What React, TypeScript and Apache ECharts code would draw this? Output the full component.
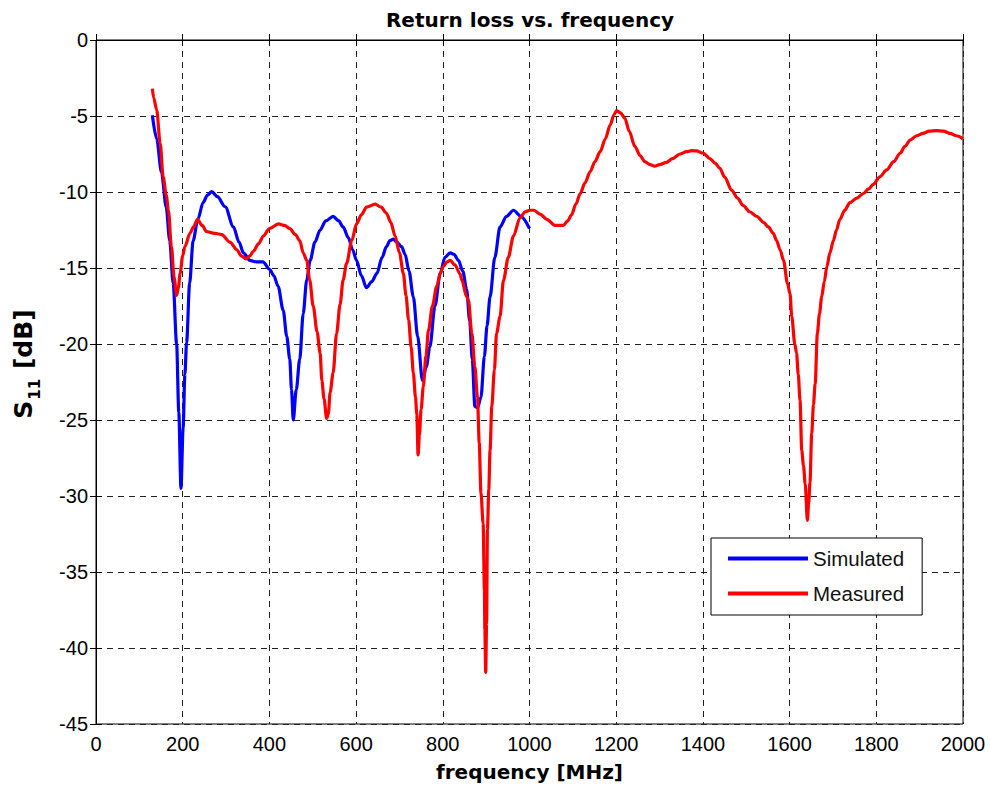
import React, { useEffect, useRef } from "react";
import * as echarts from "echarts";

const title = "Return loss vs. frequency";
const xName = "frequency [MHz]";
const seriesNames = ["Simulated", "Measured"];
const xTicks = { min: 0, max: 2000, interval: 200 };
const yTicks = { min: -45, max: 0, interval: 5 };

const simFreq = [130, 140, 151, 162, 170, 178, 186, 191, 196, 201, 205, 209, 216, 224, 235, 247, 257, 267, 280, 298, 317, 330, 340, 355, 370, 385, 401, 410, 420, 432, 440, 447, 451, 455, 462, 470, 478, 486, 494, 505, 517, 530, 547, 560, 570, 582, 592, 601, 612, 624, 636, 648, 660, 670, 678, 686, 694, 705, 713, 722, 732, 742, 753, 762, 770, 782, 794, 805, 817, 826, 836, 846, 855, 862, 868, 874, 880, 888, 896, 902, 909, 920, 932, 947, 963, 980, 1000];
const simS11 = [-4.95, -6.5, -8.7, -11.0, -13.2, -16.0, -20.0, -24.5, -29.5, -25.5, -22.0, -19.9, -16.0, -13.2, -11.8, -10.7, -10.2, -9.98, -10.3, -10.97, -12.3, -13.3, -14.0, -14.5, -14.6, -14.6, -15.1, -15.5, -16.2, -17.8, -19.5, -21.0, -23.0, -25.0, -23.0, -21.0, -18.0, -15.8, -14.5, -13.3, -12.5, -11.9, -11.6, -11.9, -12.3, -13.0, -13.8, -14.5, -15.5, -16.3, -15.9, -15.35, -14.3, -13.6, -13.2, -13.1, -13.3, -13.6, -14.1, -15.2, -16.9, -19.5, -22.4, -21.5, -20.2, -17.5, -15.35, -14.3, -14.0, -14.1, -14.5, -15.2, -16.4, -18.5, -21.0, -24.1, -24.2, -23.5, -20.8, -18.8, -16.9, -14.3, -12.3, -11.6, -11.2, -11.6, -12.4];

const measFreq = [130, 133, 140, 148, 155, 162, 167, 174, 180, 186, 190, 194, 200, 205, 217, 225, 234, 245, 255, 270, 290, 309, 325, 335, 346, 355, 363, 375, 386, 400, 421, 435, 447, 460, 470, 478, 486, 493, 501, 510, 517, 521, 526, 532, 536, 540, 547, 555, 563, 570, 578, 590, 601, 612, 624, 644, 658, 670, 680, 690, 700, 709, 715, 721, 727, 732, 737, 740, 743, 746, 750, 755, 761, 767, 776, 786, 795, 801, 810, 817, 828, 840, 844, 855, 859, 867, 874, 880, 884, 888, 893, 896, 897, 899, 901, 903, 906, 909, 913, 919, 924, 932, 940, 951, 963, 978, 990, 1001, 1010, 1024, 1040, 1059, 1078, 1088, 1097, 1107, 1117, 1128, 1140, 1151, 1163, 1175, 1186, 1195, 1201, 1210, 1220, 1230, 1243, 1255, 1266, 1278, 1289, 1300, 1316, 1330, 1347, 1362, 1374, 1385, 1401, 1416, 1428, 1439, 1450, 1466, 1480, 1493, 1508, 1524, 1540, 1551, 1562, 1570, 1578, 1586, 1595, 1601, 1605, 1612, 1616, 1620, 1624, 1628, 1632, 1636, 1641, 1644, 1647, 1651, 1655, 1659, 1664, 1669, 1674, 1680, 1686, 1693, 1701, 1708, 1716, 1727, 1739, 1755, 1770, 1782, 1793, 1808, 1824, 1840, 1855, 1866, 1878, 1893, 1908, 1922, 1939, 1955, 1970, 1985, 2000];
const measS11 = [-3.2, -3.8, -4.6, -6.8, -9.0, -10.2, -11.2, -13.6, -15.6, -16.8, -16.3, -15.35, -14.2, -13.6, -12.7, -12.3, -11.8, -12.2, -12.6, -12.7, -12.8, -13.3, -13.8, -14.2, -14.4, -14.2, -13.9, -13.4, -12.9, -12.4, -12.1, -12.2, -12.4, -12.8, -13.2, -14.0, -14.5, -15.8, -17.5, -19.2, -20.6, -22.4, -23.6, -24.9, -24.6, -23.2, -21.9, -19.3, -17.4, -15.8, -14.7, -13.2, -12.1, -11.5, -11.0, -10.8, -11.0, -11.4, -12.0, -12.9, -14.0, -15.35, -16.8, -18.4, -20.2, -21.9, -23.5, -24.6, -27.3, -26.0, -24.3, -22.8, -20.8, -19.1, -17.5, -16.2, -15.3, -14.9, -14.6, -14.5, -14.8, -15.4, -15.8, -16.9, -17.1, -19.3, -21.5, -23.5, -26.5, -29.8, -31.8, -36.2, -38.8, -41.6, -38.4, -32.2, -29.6, -27.0, -24.1, -21.7, -19.3, -18.2, -15.8, -14.3, -12.9, -11.7, -11.3, -11.2, -11.2, -11.45, -11.8, -12.2, -12.2, -11.9, -11.5, -10.8, -10.1, -9.4, -8.66, -8.0, -7.35, -6.5, -5.6, -4.9, -4.65, -4.8, -5.15, -6.0, -7.0, -7.6, -8.0, -8.2, -8.3, -8.2, -8.05, -7.8, -7.5, -7.35, -7.28, -7.3, -7.45, -7.8, -8.1, -8.44, -9.0, -9.87, -10.4, -10.9, -11.3, -11.6, -12.0, -12.3, -12.7, -13.2, -13.8, -14.5, -16.0, -16.7, -18.2, -20.0, -20.6, -22.0, -23.7, -27.0, -28.0, -29.2, -31.6, -30.5, -29.1, -25.9, -24.0, -22.6, -19.3, -18.0, -16.9, -15.9, -14.9, -14.0, -13.2, -12.5, -11.8, -11.2, -10.7, -10.4, -10.1, -9.8, -9.5, -9.0, -8.55, -8.0, -7.45, -7.0, -6.58, -6.3, -6.14, -6.0, -5.96, -6.0, -6.14, -6.3, -6.5];

const FONT = "Liberation Sans";
const BOLD = "DejaVu Sans";

export default function App() {
  const ref = useRef<HTMLDivElement>(null);
  useEffect(() => {
    if (!ref.current) return;
    const chart = echarts.init(ref.current, null, { renderer: "svg" });
    const gridLine = { show: true, lineStyle: { color: "#222", type: [6, 5], width: 1 } };
    const tick = { show: true, inside: true, length: 6, lineStyle: { color: "#000" } };
    const label = { color: "#000", fontSize: 20, fontFamily: FONT };
    chart.setOption({
      animation: false,
      backgroundColor: "#fff",
      title: {
        text: title,
        left: 525,
        textAlign: "center",
        top: 5,
        textStyle: { fontFamily: BOLD, fontWeight: "bold", fontSize: 20, color: "#000" },
      },
      grid: { left: 96, top: 40, width: 867, height: 684, show: true, borderColor: "#000", borderWidth: 1, backgroundColor: "#fff" },
      legend: {
        orient: "vertical",
        left: 711,
        top: 538,
        backgroundColor: "#fff",
        borderColor: "#000",
        borderWidth: 1,
        borderRadius: 0,
        padding: [10, 18, 11, 17],
        itemGap: 14,
        itemWidth: 80,
        itemHeight: 4,
        icon: "rect",
        textStyle: { fontSize: 20.5, color: "#111", fontFamily: FONT },
        data: seriesNames,
      },
      graphic: [
        {
          type: "text",
          x: 22,
          y: 364,
          rotation: Math.PI / 2,
          style: {
            text: "{b|S}{sub|11}{b| [dB]}",
            align: "center",
            verticalAlign: "middle",
            rich: {
              b: { fontFamily: BOLD, fontWeight: "bold", fontSize: 25, fill: "#000", lineHeight: 28, verticalAlign: "bottom" },
              sub: { fontFamily: BOLD, fontWeight: "bold", fontSize: 15, fill: "#000", lineHeight: 28, verticalAlign: "bottom", padding: [0, 1, -6, 1] },
            },
          },
        },
      ],
      xAxis: [
        {
          type: "value",
          min: xTicks.min,
          max: xTicks.max,
          interval: xTicks.interval,
          name: xName,
          nameLocation: "middle",
          nameGap: 38,
          nameTextStyle: { fontFamily: BOLD, fontWeight: "bold", fontSize: 20, color: "#000" },
          axisLine: { show: true, lineStyle: { color: "#000" } },
          axisTick: tick,
          axisLabel: { ...label, margin: 10, formatter: (v: number) => String(v) },
          splitLine: gridLine,
        },
        {
          type: "value",
          position: "top",
          min: xTicks.min,
          max: xTicks.max,
          interval: xTicks.interval,
          axisLine: { show: true, lineStyle: { color: "#000" } },
          axisTick: tick,
          axisLabel: { show: false },
          splitLine: { show: false },
        },
      ],
      yAxis: [
        {
          type: "value",
          min: yTicks.min,
          max: yTicks.max,
          interval: yTicks.interval,
          axisLine: { show: true, lineStyle: { color: "#000" } },
          axisTick: tick,
          axisLabel: { ...label, margin: 8, formatter: (v: number) => String(v) },
          splitLine: gridLine,
        },
        {
          type: "value",
          position: "right",
          min: yTicks.min,
          max: yTicks.max,
          interval: yTicks.interval,
          axisLine: { show: true, lineStyle: { color: "#000" } },
          axisTick: tick,
          axisLabel: { show: false },
          splitLine: { show: false },
        },
      ],
      series: [
        {
          name: seriesNames[0],
          type: "line",
          data: simFreq.map((f, i) => [f, simS11[i]]),
          showSymbol: false,
          smooth: 0.3,
          smoothMonotone: "x",
          lineStyle: { color: "#0000ff", width: 3.2 },
          itemStyle: { color: "#0000ff" },
          z: 3,
        },
        {
          name: seriesNames[1],
          type: "line",
          data: measFreq.map((f, i) => [f, measS11[i]]),
          showSymbol: false,
          smooth: 0.3,
          smoothMonotone: "x",
          lineStyle: { color: "#ff0000", width: 3.2 },
          itemStyle: { color: "#ff0000" },
          z: 4,
        },
      ],
    });
    return () => chart.dispose();
  }, []);
  return <div ref={ref} style={{ position: "absolute", left: 0, top: 0, width: 990, height: 791 }} />;
}
